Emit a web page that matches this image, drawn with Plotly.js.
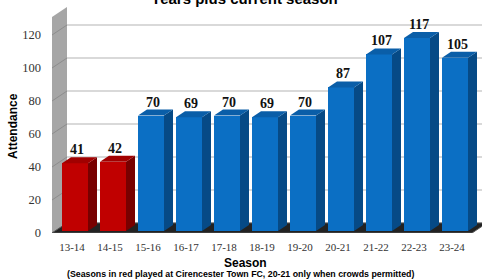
<!DOCTYPE html>
<html><head><meta charset="utf-8">
<script src="https://cdn.plot.ly/plotly-3.0.1.min.js"></script>
<style>html,body{margin:0;padding:0;background:#fff}#chart{width:482px;height:279px}</style>
</head><body><div id="chart"></div>
<script>
// ---- data ----
const seasons = ['13-14','14-15','15-16','16-17','17-18','18-19','19-20','20-21','21-22','22-23','23-24'];
const attendance = [41,42,70,69,70,69,70,87,107,117,105];
const redSeasons = ['13-14','14-15'];
const yTicks = [0,20,40,60,80,100,120];
const titleText = 'Years plus current season';
const xTitle = 'Season';
const xNote = '(Seasons in red played at Cirencester Town FC, 20-21 only when crowds permitted)';
const yTitle = 'Attendance';

// ---- geometry (pixels) ----
const W = 482, H = 279;
const PL = 52, PR = 482, PT = 7, PB = 233;      // plot area
const CAT0 = 53, CATW = 38;                      // front plane category scale
const PXU = 1.65;                                // px per attendance unit
const BAR_DX = 3, BAR_DY = 2;                    // bar plane offset from front
const WALL_DX = 15, WALL_DY = 10;                // back wall depth
const BAR_W = 26, DEP_X = 9, DEP_Y = 6;          // bar size and depth

const p = px => (px - CAT0) / CATW - 0.5;        // front px -> category position
const paperX = px => (px - PL) / (PR - PL);
const paperY = py => (PB - py) / (PB - PT);

const colors = {
  red:  {front:'#c00000', side:'#780000', top:'#a10000'},
  blue: {front:'#0b6fc4', side:'#064a86', top:'#0a5ea8'}
};

const idx = seasons.map((s,i)=>i);
const pal = seasons.map(s => redSeasons.includes(s) ? colors.red : colors.blue);

const traces = [
  { // front plane (carries tick labels)
    type:'scatter', x:seasons, y:attendance, xaxis:'x2', yaxis:'y2',
    mode:'markers', marker:{opacity:0}, hoverinfo:'skip', showlegend:false
  },
  { // bars
    type:'bar', x:idx, y:attendance, xaxis:'x3', yaxis:'y3',
    width: BAR_W / CATW,
    marker:{color: pal.map(c=>c.front), line:{width:0}},
    hoverinfo:'skip', showlegend:false
  }
];

const shapes = [];
// back wall gridlines
yTicks.forEach(v => {
  shapes.push({type:'line', xref:'x2', yref:'y2', xsizemode:'pixel', ysizemode:'pixel',
    xanchor:-0.5, yanchor:v, x0:WALL_DX - 1, x1:(PR - CAT0) + WALL_DX + 10, y0:WALL_DY, y1:WALL_DY,
    line:{color:'#b3b3b3', width:1}, layer:'below'});
});
// left side wall
shapes.push({type:'path', xref:'x2', yref:'y2', xsizemode:'pixel', ysizemode:'pixel',
  xanchor:-0.5, yanchor:0,
  path:`M-1,0 L-1,${PB-PT-WALL_DY} L${WALL_DX-1},${PB-PT} L${WALL_DX-1},${WALL_DY} Z`,
  fillcolor:'#a6a6a6', line:{width:0}, layer:'below'});
// wall gridline segments
yTicks.forEach(v => {
  shapes.push({type:'line', xref:'x2', yref:'y2', xsizemode:'pixel', ysizemode:'pixel',
    xanchor:-0.5, yanchor:v, x0:-1, x1:WALL_DX - 1, y0:0, y1:WALL_DY,
    line:{color:'#8c8c8c', width:1}, layer:'below'});
});
// floor
const FW = seasons.length * CATW + 1;
shapes.push({type:'path', xref:'x2', yref:'y2', xsizemode:'pixel', ysizemode:'pixel',
  xanchor:-0.5, yanchor:0,
  path:`M-1,0 L${FW},0 L${FW+WALL_DX},${WALL_DY} L${WALL_DX-1},${WALL_DY} Z`,
  fillcolor:'#222222', line:{color:'#555555', width:1}, layer:'below'});

// bar top & side faces (data units on bar plane)
const hw = BAR_W / 2 / CATW, dx = DEP_X / CATW, dy = DEP_Y / PXU;
idx.forEach((k,i) => {
  const v = attendance[i];
  shapes.push({type:'path', xref:'x3', yref:'y3', layer:'above', line:{width:0},
    fillcolor: pal[i].side,
    path:`M${k+hw},0 L${k+hw},${v} L${k+hw+dx},${v+dy} L${k+hw+dx},${dy} Z`});
  shapes.push({type:'path', xref:'x3', yref:'y3', layer:'above', line:{width:0},
    fillcolor: pal[i].top,
    path:`M${k-hw},${v} L${k+hw},${v} L${k+hw+dx},${v+dy} L${k-hw+dx},${v+dy} Z`});
});

const annotations = idx.map((k,i) => ({
  xref:'x3', yref:'y3', x:k, y:attendance[i], text:String(attendance[i]),
  showarrow:false, xanchor:'center', yanchor:'bottom', xshift:2, yshift:4,
  font:{family:'Liberation Serif, serif', size:14, color:'#111', weight:'bold'}
}));
annotations.push(
  {xref:'paper', yref:'paper', x:paperX(244), y:paperY(-1), text:'<b>'+titleText+'</b>',
   showarrow:false, xanchor:'center', yanchor:'middle',
   font:{family:'Liberation Sans, Arial, sans-serif', size:15, color:'#000'}},
  {xref:'paper', yref:'paper', x:paperX(13), y:paperY(126), text:'<b>'+yTitle+'</b>', textangle:-90,
   showarrow:false, xanchor:'center', yanchor:'middle',
   font:{family:'Liberation Sans, Arial, sans-serif', size:12, color:'#000'}},
  {xref:'paper', yref:'paper', x:paperX(245), y:paperY(262.5), text:'<b>'+xTitle+'</b>',
   showarrow:false, xanchor:'center', yanchor:'middle',
   font:{family:'Liberation Sans, Arial, sans-serif', size:12, color:'#000'}},
  {xref:'paper', yref:'paper', x:paperX(240), y:paperY(274), text:'<b>'+xNote+'</b>',
   showarrow:false, xanchor:'center', yanchor:'middle',
   font:{family:'Liberation Sans, Arial, sans-serif', size:8.8, color:'#000'}}
);

const hidden = {showgrid:false, zeroline:false, showline:false, ticks:'', showticklabels:false};

const layout = {
  width:W, height:H,
  margin:{l:PL, r:W-PR, t:PT, b:H-PB, pad:0},
  paper_bgcolor:'#ffffff', plot_bgcolor:'rgba(0,0,0,0)',
  showlegend:false, bargap:0,
  xaxis2:{domain:[0,1], anchor:'y2', type:'category', categoryorder:'array', categoryarray:seasons,
    range:[p(PL), p(PR)], showgrid:false, zeroline:false, showline:false, ticks:'',
    ticklabelstandoff:6,
    tickfont:{family:'Liberation Serif, serif', size:11, color:'#333'}},
  yaxis2:{domain:[0,1], anchor:'x2', range:[0,(PB-PT)/PXU], tickvals:yTicks,
    showgrid:false, zeroline:false, showline:false, ticks:'', ticklabelstandoff:10,
    tickfont:{family:'Liberation Serif, serif', size:12.5, color:'#333'}},
  xaxis3:Object.assign({domain:[BAR_DX/(PR-PL),1], anchor:'y3', range:[p(PL), p(PR-BAR_DX)]}, hidden),
  yaxis3:Object.assign({domain:[BAR_DY/(PB-PT),1], anchor:'x3', range:[0,(PB-BAR_DY-PT)/PXU]}, hidden),
  shapes, annotations
};

Plotly.newPlot('chart', traces, layout, {staticPlot:true, displayModeBar:false});
</script></body></html>
